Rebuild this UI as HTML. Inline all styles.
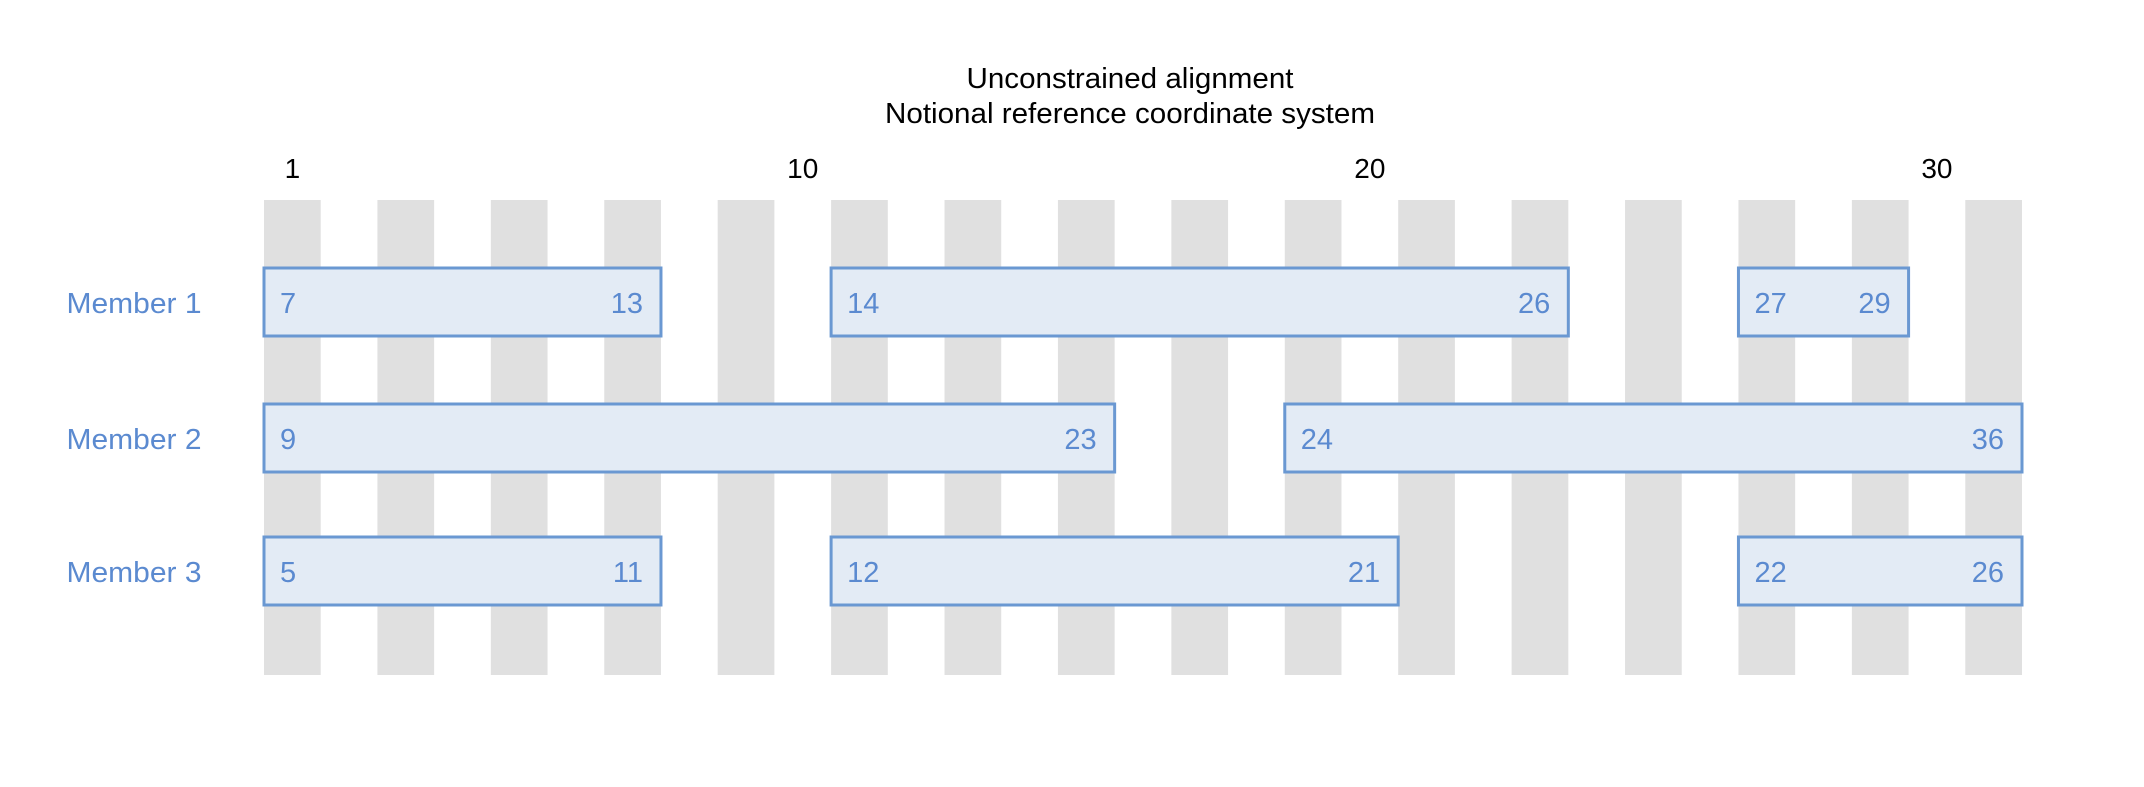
<!DOCTYPE html>
<html><head><meta charset="utf-8"><style>
html,body{margin:0;padding:0;background:#fff;}
svg{display:block;font-family:"Liberation Sans",sans-serif;}
</style></head><body>
<svg id="chart" width="2144" height="787" viewBox="0 0 2144 787" xmlns="http://www.w3.org/2000/svg">
<text x="1130" y="88" font-size="29" text-anchor="middle" textLength="327" lengthAdjust="spacingAndGlyphs" fill="#000">Unconstrained alignment</text>
<text x="1130" y="123" font-size="29" text-anchor="middle" textLength="490" lengthAdjust="spacingAndGlyphs" fill="#000">Notional reference coordinate system</text>
<g id="stripes"></g>
<g id="ticks"></g>
<g id="rows"></g>
</svg>
<script>
const positions = 31;
const tickValues = [1, 10, 20, 30];
const members = ["Member 1", "Member 2", "Member 3"];
const segStart = [[0, 10, 26], [0, 18], [0, 10, 26]];
const segEnd = [[7, 23, 29], [15, 31], [7, 20, 31]];
const labelStart = [[7, 14, 27], [9, 24], [5, 12, 22]];
const labelEnd = [[13, 26, 29], [23, 36], [11, 21, 26]];

const NS = "http://www.w3.org/2000/svg";
const X0 = 264, X1 = 2022;
const colW = (X1 - X0) / positions;
function xEdge(k){ return X0 + k * colW; }
function xCenter(p){ return X0 + (p - 0.5) * colW; }
const rowTop = [268, 404, 537];
const rowH = 68;
function mk(tag, attrs, parent){
  const el = document.createElementNS(NS, tag);
  for (const k in attrs) el.setAttribute(k, attrs[k]);
  parent.appendChild(el);
  return el;
}
const stripes = document.getElementById('stripes');
for (let k = 0; k < positions; k += 2) {
  const r = mk('rect', {x: xEdge(k), y: 200, width: colW, height: 475, fill: '#e0e0e0'}, stripes);
  
  
}
const ticks = document.getElementById('ticks');
tickValues.forEach(v => {
  const t = mk('text', {x: xCenter(v), y: 178, 'font-size': 28, 'text-anchor': 'middle', fill: '#000'}, ticks);
  t.textContent = v;
  
  
});
const rows = document.getElementById('rows');
const blue = '#5b8ad0';
members.forEach((m, i) => {
  const base = rowTop[i] + rowH / 2 + 11;
  const lab = mk('text', {x: 134, y: base, 'font-size': 29, 'text-anchor': 'middle', fill: blue, textLength: 135, lengthAdjust: 'spacingAndGlyphs'}, rows);
  lab.textContent = m;
  
  
  segStart[i].forEach((s, j) => {
    const e = segEnd[i][j];
    const x = xEdge(s), w = xEdge(e) - xEdge(s);
    const r = mk('rect', {x: x, y: rowTop[i], width: w, height: rowH, fill: '#e3ebf5', stroke: '#6a98d2', 'stroke-width': 3}, rows);
    
    
    const a = mk('text', {x: x + 16, y: base, 'font-size': 29, fill: blue}, rows);
    a.textContent = labelStart[i][j];
    
    
    const b = mk('text', {x: x + w - 18, y: base, 'font-size': 29, fill: blue, 'text-anchor': 'end'}, rows);
    b.textContent = labelEnd[i][j];
    
    
  });
});
</script>
</body></html>
